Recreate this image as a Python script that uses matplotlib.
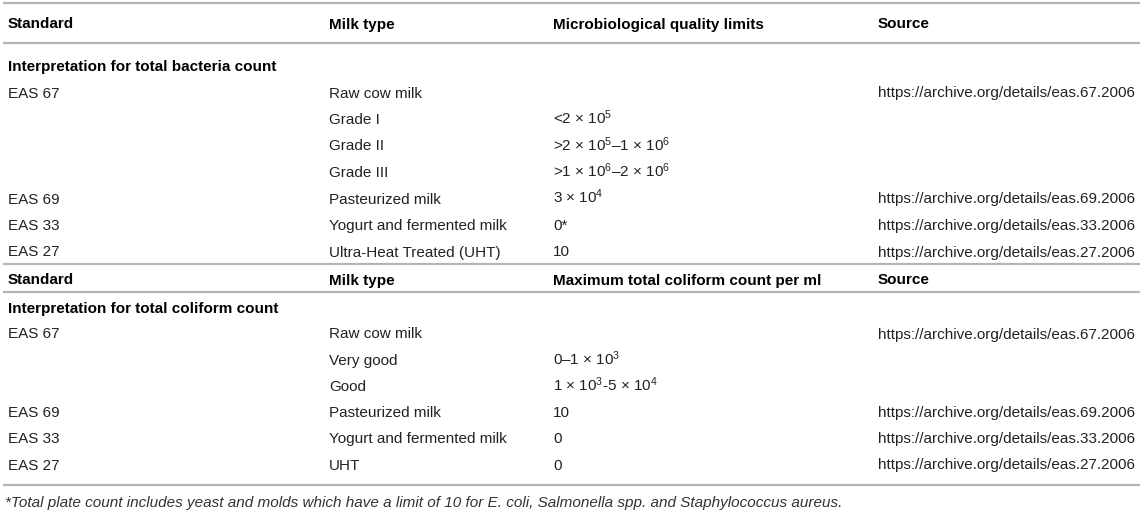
import matplotlib.pyplot as plt

plt.rcParams["font.family"] = ["Liberation Sans", "DejaVu Sans"]
plt.rcParams["mathtext.fontset"] = "custom"
plt.rcParams["mathtext.rm"] = "Liberation Sans"
plt.rcParams["mathtext.it"] = "Liberation Sans:italic"
plt.rcParams["mathtext.bf"] = "Liberation Sans:bold"

# Table content
header_1 = ["Standard", "Milk type", "Microbiological quality limits", "Source"]
section_1 = "Interpretation for total bacteria count"
bact_standard = ["EAS 67", "", "", "", "EAS 69", "EAS 33", "EAS 27"]
bact_milk = ["Raw cow milk", "Grade I", "Grade II", "Grade III",
             "Pasteurized milk", "Yogurt and fermented milk",
             "Ultra-Heat Treated (UHT)"]
bact_limit = ["", r"<2 × 10$^{5}$", r">2 × 10$^{5}$–1 × 10$^{6}$",
              r">1 × 10$^{6}$–2 × 10$^{6}$", r"3 × 10$^{4}$", "0*", "10"]
bact_source = ["https://archive.org/details/eas.67.2006", "", "", "",
               "https://archive.org/details/eas.69.2006",
               "https://archive.org/details/eas.33.2006",
               "https://archive.org/details/eas.27.2006"]

header_2 = ["Standard", "Milk type", "Maximum total coliform count per ml", "Source"]
section_2 = "Interpretation for total coliform count"
coli_standard = ["EAS 67", "", "", "EAS 69", "EAS 33", "EAS 27"]
coli_milk = ["Raw cow milk", "Very good", "Good", "Pasteurized milk",
             "Yogurt and fermented milk", "UHT"]
coli_limit = ["", r"0–1 × 10$^{3}$", r"1 × 10$^{3}$-5 × 10$^{4}$", "10", "0", "0"]
coli_source = ["https://archive.org/details/eas.67.2006", "", "",
               "https://archive.org/details/eas.69.2006",
               "https://archive.org/details/eas.33.2006",
               "https://archive.org/details/eas.27.2006"]

footnote = ("*Total plate count includes yeast and molds which have a limit of 10 "
            "for E. coli, Salmonella spp. and Staphylococcus aureus.")

# Layout (pixel units)
W, H = 1143, 513
col_x = [8, 329, 553, 878]
line_color = "#b4b4b4"
text_color = "#222222"
fs = 11.0
base = 5.5  # row centre -> text baseline offset

fig = plt.figure(figsize=(W / 100, H / 100), dpi=100)
ax = fig.add_axes([0, 0, 1, 1])
ax.set_xlim(0, W)
ax.set_ylim(H, 0)
ax.axis("off")


def hline(y):
    ax.plot([3, W - 3], [y, y], color=line_color, lw=1.6, solid_capstyle="butt")


def row(y, cells, bold=False):
    for x, txt in zip(col_x, cells):
        if txt:
            ax.text(x, y + base, txt, fontsize=fs, va="baseline", ha="left",
                    color="black" if bold else text_color,
                    fontweight="bold" if bold else "normal")


def block(header, section, cols, y_head, y_sec, y0, step):
    row(y_head, header, bold=True)
    ax.text(col_x[0], y_sec + base, section, fontsize=fs, va="baseline",
            ha="left", color="black", fontweight="bold")
    for i, cells in enumerate(zip(*cols)):
        row(y0 + i * step, cells)


hline(3)
block(header_1, section_1, [bact_standard, bact_milk, bact_limit, bact_source],
      23, 66, 92, 26.5)
hline(43)
hline(264)
block(header_2, section_2, [coli_standard, coli_milk, coli_limit, coli_source],
      279, 307, 333, 26.2)
hline(292)
hline(485)
ax.text(col_x[0] - 3, 502 + base, footnote, fontsize=fs, style="italic",
        va="baseline", ha="left", color="#333333")

fig.savefig("out.png", dpi=100)
